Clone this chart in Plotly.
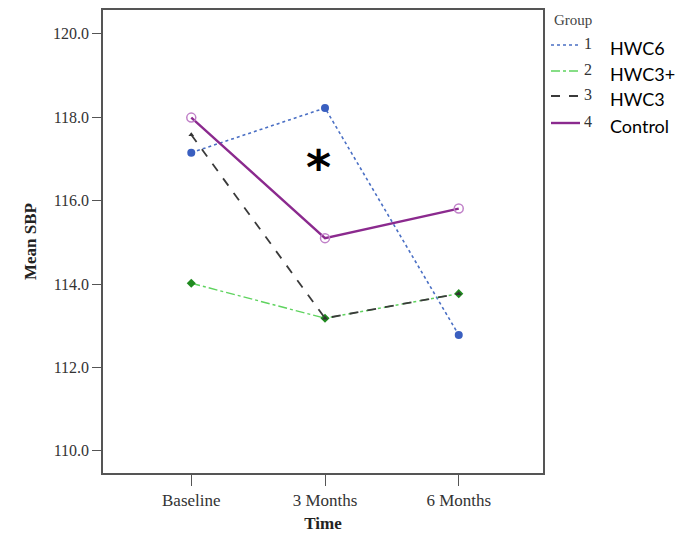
import plotly.graph_objects as go

time_labels = ["Baseline", "3 Months", "6 Months"]
group_ids = ["1", "2", "3", "4"]
group_names = ["HWC6", "HWC3+", "HWC3", "Control"]
g1_values = [117.15, 118.22, 112.78]
g2_values = [114.02, 113.18, 113.77]
g3_values = [117.58, 113.18, 113.77]
g4_values = [117.99, 115.10, 115.81]
y_ticks = [110.0, 112.0, 114.0, 116.0, 118.0, 120.0]

series = [g1_values, g2_values, g3_values, g4_values]
colors = ["#4a6fc4", "#5fd35f", "#3a3a3a", "#8b2a8e"]
dashes = ["dot", "dashdot", "dash", "solid"]
widths = [1.6, 1.4, 1.8, 2.4]
markers = [
    dict(symbol="circle", size=8, color="#3a5fc0"),
    dict(symbol="diamond", size=7, color="#1f8a1f"),
    dict(symbol="triangle-up", size=5, color="#333333"),
    dict(symbol="circle-open", size=9, color="#c080c8", line=dict(width=1.5)),
]
xs = [0, 1, 2]

# page body has an 8px margin; work in page pixels and offset
OFF = 8
W, H = 691 - OFF, 533 - OFF
L, T = 103 - OFF, 10 - OFF
R = W - (543 - OFF)
B = H - (473 - OFF)
pw, ph = W - L - R, H - T - B


def px(xp):
    return (xp - OFF - L) / pw


def py(yp):
    return 1 - (yp - OFF - T) / ph


fig = go.Figure()
for i, vals in enumerate(series):
    fig.add_trace(go.Scatter(
        x=xs, y=vals, mode="lines+markers",
        line=dict(color=colors[i], dash=dashes[i], width=widths[i]),
        marker=markers[i], showlegend=False, cliponaxis=False,
    ))

fig.add_annotation(x=0.95, y=116.95, xref="x", yref="y", text="<b>*</b>",
                   showarrow=False, font=dict(family="DejaVu Sans", size=48, color="black"),
                   yshift=-6)

# manual legend
legend_y = [48, 74, 99, 126]
fig.add_annotation(x=px(552), y=py(20), xref="paper", yref="paper", text="Group",
                   showarrow=False, xanchor="left", yanchor="middle",
                   font=dict(family="Liberation Serif", size=15, color="#444"))
for i in range(4):
    fig.add_shape(type="line", xref="paper", yref="paper",
                  x0=px(551), x1=px(580), y0=py(legend_y[i] - 3), y1=py(legend_y[i] - 3),
                  line=dict(color=colors[i], dash=dashes[i], width=widths[i]))
    fig.add_annotation(x=px(582), y=py(legend_y[i] - 4), xref="paper", yref="paper",
                       text=group_ids[i], showarrow=False, xanchor="left", yanchor="middle",
                       font=dict(family="Liberation Serif", size=16, color="#333"))
    fig.add_annotation(x=px(608), y=py(legend_y[i]), xref="paper", yref="paper",
                       text=group_names[i], showarrow=False, xanchor="left", yanchor="middle",
                       font=dict(family="Lato", size=18, color="black"))

fig.update_layout(
    width=W, height=H,
    margin=dict(l=L, r=R, t=T, b=B),
    paper_bgcolor="white", plot_bgcolor="white",
    font=dict(family="Liberation Serif", color="#333"),
    xaxis=dict(
        range=[-0.66, 2.63], tickmode="array", tickvals=xs, ticktext=time_labels,
        showgrid=False, zeroline=False, showline=True, mirror=True, automargin=False,
        linecolor="#555", linewidth=1.5, ticks="outside", ticklen=11,
        tickcolor="#555", tickfont=dict(size=17, color="#333"),
        title=dict(text="<b>Time</b>", font=dict(size=17, color="#222"), standoff=8),
    ),
    yaxis=dict(
        range=[109.47, 120.57], tickmode="array", tickvals=y_ticks,
        ticktext=[f"{v:.1f}" for v in y_ticks],
        showgrid=False, zeroline=False, showline=True, mirror=True, automargin=False,
        linecolor="#555", linewidth=1.5, ticks="outside", ticklen=9,
        tickcolor="#555", tickfont=dict(size=16, color="#333"),
        title=dict(text="<b>Mean SBP</b>", font=dict(size=17, color="#222"), standoff=12),
    ),
)

fig.write_html("out.html")
